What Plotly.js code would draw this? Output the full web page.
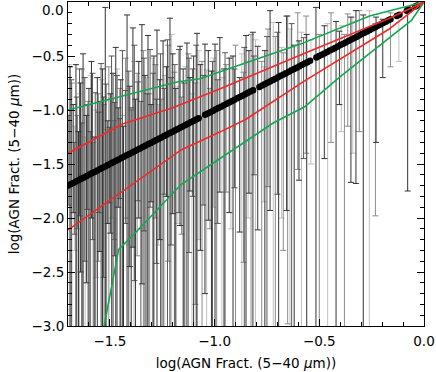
<!DOCTYPE html>
<html>
<head>
<meta charset="utf-8">
<script src="https://cdn.plot.ly/plotly-3.0.1.min.js"></script>
<style>
  html, body { margin: 0; padding: 0; background: #fff; }
  #chart { width: 436px; height: 372px; }
</style>
</head>
<body>
<div id="chart"></div>
<script>
// ── Data ─────────────────────────────────────────────────────────────────────
// AGN fraction points; they sit on the 1:1 line, so the same values serve as x and y.
const agnFrac = [
  -1.700, -1.688, -1.675, -1.662, -1.650, -1.637, -1.624, -1.611, -1.598, -1.586,
  -1.573, -1.560, -1.547, -1.535, -1.522, -1.509, -1.496, -1.484, -1.471, -1.458,
  -1.445, -1.433, -1.420, -1.407, -1.394, -1.382, -1.369, -1.356, -1.343, -1.331,
  -1.318, -1.305, -1.292, -1.280, -1.267, -1.254, -1.241, -1.229, -1.216, -1.203,
  -1.190, -1.178, -1.165, -1.152, -1.139, -1.127, -1.114, -1.101, -1.088, -1.076,
  -1.045, -1.033, -1.020, -1.007, -0.994, -0.982, -0.969, -0.956, -0.943, -0.931,
  -0.918, -0.905, -0.892, -0.880, -0.867, -0.854, -0.841, -0.829, -0.816,
  -0.786, -0.773, -0.761, -0.748, -0.735, -0.722, -0.710, -0.697, -0.684, -0.671,
  -0.659, -0.646, -0.633, -0.620, -0.608, -0.595, -0.582, -0.569, -0.557, -0.544,
  -0.514, -0.501, -0.488, -0.476, -0.463, -0.450, -0.437, -0.425, -0.412, -0.399,
  -0.386, -0.374, -0.361, -0.348, -0.335, -0.323, -0.310, -0.297, -0.284, -0.272,
  -0.259, -0.246, -0.233, -0.221, -0.208, -0.195, -0.182, -0.170, -0.160,
  -0.130, -0.117, -0.082, -0.070, -0.042, -0.032,
];

// error bars, four grey levels: position, top and bottom of each bar
// (bottoms of -3.5 run off the bottom of the frame)
const darkX = [
  -1.690, -1.675, -1.662, -1.650, -1.640, -1.628, -1.612, -1.600, -1.588, -1.575,
  -1.560, -1.548, -1.535, -1.522, -1.510, -1.498, -1.485, -1.472, -1.460, -1.448,
  -1.435, -1.418, -1.405, -1.390, -1.378, -1.362, -1.347, -1.332, -1.318, -1.303,
  -1.290, -1.275, -1.262, -1.246, -1.230, -1.213, -1.200, -1.185, -1.165, -1.150,
  -1.132, -1.118, -1.100, -1.084, -1.068, -1.046, -1.030, -1.015, -0.998, -0.975,
  -0.955, -0.930, -0.912, -0.880, -0.850, -0.836, -0.817, -0.794, -0.760, -0.735,
  -0.694, -0.656, -0.620, -0.597, -0.560, -0.516, -0.476, -0.420, -0.404, -0.349,
  -0.325, -0.290, -0.229, -0.197, -0.078,
];
const darkTop = [
  -0.60, -0.95, -0.58, -1.20, -0.75, -0.48, -1.05, -0.80, -0.55, -1.25,
  -0.70, -0.92, -0.62, -0.05, -1.10, -0.85, -0.66, -0.42, -0.98, -0.72,
  -1.15, -0.12, -0.78, -0.24, -0.90, -0.55, -0.21, -0.68, -0.31, -0.95,
  -0.50, -0.26, -0.72, -0.36, -0.60, -0.15, -0.48, -0.80, -0.41, -0.62,
  -0.38, -0.70, -0.50, -0.29, -0.58, -0.39, -0.45, -0.64, -0.39, -0.33,
  -0.62, -0.52, -0.50, -0.70, -0.31, -0.45, -0.28, -0.41, -0.45, -0.08,
  -0.19, -0.13, -0.40, -0.36, -0.30, -0.05, -0.22, -0.18, -0.27, -0.14,
  -0.08, -0.12, -0.14, -0.16, -0.05,
];
const darkBot = [
  -3.5, -1.95, -3.5, -3.5, -2.50, -3.5, -2.60, -3.5, -2.00, -3.5,
  -3.5, -2.31, -3.5, -3.5, -2.05, -2.14, -3.5, -3.5, -1.90, -3.5,
  -3.5, -3.5, -2.45, -2.27, -3.5, -2.00, -2.61, -3.5, -3.5, -1.85,
  -3.5, -3.5, -2.20, -3.5, -1.80, -3.5, -1.96, -3.5, -2.07, -3.5,
  -3.5, -1.75, -3.5, -3.5, -2.30, -2.70, -2.02, -3.5, -3.5, -1.76,
  -3.5, -1.95, -3.5, -2.13, -3.5, -1.77, -3.5, -2.11, -3.5, -1.93,
  -3.5, -1.93, -3.5, -1.65, -3.5, -3.5, -1.45, -3.5, -0.95, -1.67,
  -1.68, -3.5, -1.30, -0.70, -1.75,
];

const dimX = [
  -1.696, -1.684, -1.670, -1.658, -1.645, -1.634, -1.620, -1.608, -1.594, -1.583,
  -1.570, -1.552, -1.542, -1.530, -1.518, -1.502, -1.492, -1.478, -1.466, -1.452,
  -1.440, -1.426, -1.410, -1.398, -1.383, -1.366, -1.352, -1.337, -1.322, -1.308,
  -1.294, -1.278, -1.258, -1.240, -1.225, -1.208, -1.190, -1.170, -1.145, -1.122,
  -1.105, -1.088, -1.055, -1.010, -0.985, -0.950, -0.905, -0.858, -0.812, -0.750,
  -0.700, -0.632, -0.575,
];
const dimTop = [
  -1.05, -0.72, -1.30, -0.88, -0.62, -1.12, -0.70, -0.95, -1.20, -0.66,
  -0.84, -1.02, -0.57, -0.88, -0.76, -1.16, -0.50, -0.93, -0.68, -1.08,
  -0.45, -0.82, -0.64, -0.98, -0.40, -0.74, -0.92, -0.52, -0.85, -0.44,
  -0.66, -0.90, -0.48, -0.80, -0.35, -0.70, -0.58, -0.44, -0.75, -0.52,
  -0.62, -0.40, -0.68, -0.55, -0.72, -0.47, -0.62, -0.42, -0.50, -0.32,
  -0.28, -0.20, -0.33,
];
const dimBot = [
  -1.88, -3.5, -2.15, -3.5, -1.98, -3.5, -2.40, -1.92, -3.5, -2.20,
  -3.5, -1.95, -3.5, -2.55, -3.5, -1.86, -3.5, -2.35, -3.5, -1.82,
  -3.5, -2.05, -3.5, -3.5, -2.58, -1.84, -3.5, -2.12, -3.5, -1.90,
  -3.5, -2.42, -3.5, -1.78, -3.5, -2.25, -3.5, -1.95, -3.5, -2.32,
  -1.80, -3.5, -1.88, -3.5, -2.05, -3.5, -1.72, -3.5, -1.60, -3.5,
  -1.78, -3.5, -1.45,
];

const midX = [
  -1.682, -1.655, -1.633, -1.605, -1.580, -1.555, -1.528, -1.505, -1.480, -1.453,
  -1.425, -1.398, -1.370, -1.340, -1.310, -1.283, -1.255, -1.222, -1.192, -1.158,
  -1.125, -1.092, -1.060, -1.022, -0.990, -0.945, -0.900, -0.862, -0.826, -0.775,
  -0.745, -0.710, -0.672, -0.651, -0.603, -0.563, -0.500, -0.444, -0.380, -0.364,
  -0.309, -0.232, -0.160,
];
const midTop = [
  -0.75, -1.05, -0.62, -0.92, -1.30, -0.85, -0.95, -0.60, -1.10, -0.80,
  -0.52, -1.00, -0.66, -0.45, -0.85, -0.58, -0.90, -0.40, -0.65, -0.88,
  -0.48, -0.75, -0.55, -0.80, -0.45, -0.58, -0.40, -0.65, -0.30, -0.55,
  -0.25, -0.32, -0.47, -0.13, -0.10, -0.13, -0.30, -0.10, -0.30, -0.11,
  -0.08, -0.20, -0.10,
];
const midBot = [
  -3.5, -2.10, -3.5, -3.5, -3.5, -2.40, -3.5, -3.5, -2.20, -3.5,
  -2.00, -3.5, -2.35, -3.5, -3.5, -2.00, -3.5, -2.40, -3.5, -2.15,
  -3.5, -2.80, -3.5, -2.10, -3.5, -1.76, -3.5, -2.41, -3.5, -3.5,
  -1.71, -3.5, -2.30, -2.98, -1.55, -1.40, -3.5, -1.30, -3.5, -1.15,
  -1.20, -1.98, -0.60,
];

const lightX = [
  -1.694, -1.668, -1.645, -1.618, -1.592, -1.566, -1.540, -1.515, -1.490, -1.465,
  -1.440, -1.412, -1.385, -1.355, -1.325, -1.297, -1.268, -1.238, -1.205, -1.175,
  -1.140, -1.108, -1.075, -1.038, -1.005, -0.965, -0.922, -0.870, -0.840, -0.805,
  -0.765, -0.720, -0.680, -0.640, -0.585, -0.540, -0.460, -0.395, -0.340, -0.261,
  -0.120,
];
const lightTop = [
  -0.58, -1.15, -0.85, -1.25, -0.68, -1.00, -0.72, -1.18, -0.90, -0.62,
  -1.05, -0.80, -0.55, -1.08, -0.70, -0.52, -0.95, -0.68, -0.30, -0.78,
  -0.60, -0.85, -0.45, -0.63, -0.52, -0.70, -0.51, -0.48, -0.55, -0.35,
  -0.60, -0.19, -0.42, -0.25, -0.28, -0.35, -0.20, -0.22, -0.14, -0.08,
  -0.10,
];
const lightBot = [
  -3.5, -2.30, -3.5, -3.5, -3.5, -2.55, -3.5, -3.5, -2.00, -3.5,
  -3.5, -2.25, -3.5, -2.10, -3.5, -3.5, -2.25, -3.5, -3.5, -2.05,
  -3.5, -3.5, -2.20, -3.5, -1.90, -3.5, -2.10, -3.5, -2.00, -3.5,
  -1.85, -3.5, -2.00, -3.5, -3.5, -1.50, -3.5, -1.20, -1.40, -3.5,
  -0.55,
];

// envelopes
const redUpX   = [-1.70, -1.44, -1.20, -0.97, -0.59, -0.17, 0.0];
const redUpY   = [-1.40, -1.13, -0.98, -0.80, -0.49, -0.155, 0.0];
const redLoX   = [-1.70, -1.16, -0.97, -0.85, -0.57, -0.17, 0.0];
const redLoY   = [-2.11, -1.37, -1.20, -1.085, -0.73, -0.255, 0.0];
const greenUpX = [-1.70, -1.18, -1.07, -0.84, -0.59, -0.26, 0.0];
const greenUpY = [-1.00, -0.74, -0.71, -0.56, -0.39, -0.13, 0.0];
const greenLoX = [-1.55, -1.458, -1.37, -1.16, -0.99, -0.72, -0.57, -0.40, -0.06, 0.0];
const greenLoY = [-3.23, -2.29, -2.12, -1.69, -1.47, -1.12, -0.97, -0.69, -0.17, 0.0];

// y tick labels; the top "0.0" is set as an annotation so it is not clipped
const yTickVals = [-3, -2.5, -2, -1.5, -1, -0.5, 0];
const yTickText = ["\u22123.0", "\u22122.5", "\u22122.0", "\u22121.5", "\u22121.0", "\u22120.5", ""];
const yTopLabel = "0.0";

// ── Traces ───────────────────────────────────────────────────────────────────
function errTrace(xs, tops, bots, color) {
  return {
    x: xs, y: xs, type: "scatter", mode: "markers",
    marker: { size: 1, color: "rgba(0,0,0,0)" },
    error_y: {
      type: "data", symmetric: false,
      array: xs.map((v, i) => tops[i] - v),
      arrayminus: xs.map((v, i) => v - bots[i]),
      color: color, thickness: 1, width: 3,
    },
    hoverinfo: "skip",
  };
}

function envTrace(xs, ys, color) {
  return { x: xs, y: ys, type: "scatter", mode: "lines",
           line: { color: color, width: 1.6 } };
}

const traces = [
  errTrace(lightX, lightTop, lightBot, "#c0c0c0"),
  errTrace(midX, midTop, midBot, "#8c8c8c"),
  errTrace(dimX, dimTop, dimBot, "#5a5a5a"),
  errTrace(darkX, darkTop, darkBot, "#333333"),
  { x: agnFrac, y: agnFrac, type: "scatter", mode: "markers",
    marker: { size: 6.5, color: "#000" } },
  envTrace(greenUpX, greenUpY, "#12a850"),
  envTrace(greenLoX, greenLoY, "#12a850"),
  envTrace(redUpX, redUpY, "#f42828"),
  envTrace(redLoX, redLoY, "#f42828"),
];

// ── Layout: IDL-style boxed axes ─────────────────────────────────────────────
const FONT = "DejaVu Sans, Liberation Sans, sans-serif";
const titleText = "log(AGN Fract. (5\u221240 <i>\u03bc</i>m))";
const axisCommon = {
  showgrid: false, zeroline: false,
  showline: true, linecolor: "#000", linewidth: 1, mirror: "ticks",
  ticks: "inside", ticklen: 7, tickwidth: 1, tickcolor: "#000",
  dtick: 0.5, tick0: 0, tickformat: ".1f",
  minor: { dtick: 0.1, ticks: "inside", ticklen: 4, tickcolor: "#000" },
  tickfont: { family: FONT, size: 13.5, color: "#000" },
};

const layout = {
  width: 436, height: 372,
  margin: { l: 68, r: 12, t: 2, b: 46 },
  paper_bgcolor: "#fff", plot_bgcolor: "#fff",
  showlegend: false,
  xaxis: Object.assign({}, axisCommon, {
    range: [-1.7, 0], ticklabelstandoff: 3,
    title: { text: titleText, standoff: 10,
             font: { family: FONT, size: 13.5, color: "#000" } },
  }),
  yaxis: Object.assign({}, axisCommon, {
    range: [-3, 0], tickmode: "array", tickvals: yTickVals, ticktext: yTickText,
    title: { text: titleText, standoff: 8,
             font: { family: FONT, size: 13.5, color: "#000" } },
  }),
  annotations: [{
    text: yTopLabel, xref: "paper", yref: "paper", x: 0, y: 1,
    xanchor: "right", yanchor: "top", xshift: -3, yshift: 2, showarrow: false,
    font: { family: FONT, size: 13.5, color: "#000" },
  }],
};

Plotly.newPlot("chart", traces, layout, { displayModeBar: false, staticPlot: true });
</script>
</body>
</html>
